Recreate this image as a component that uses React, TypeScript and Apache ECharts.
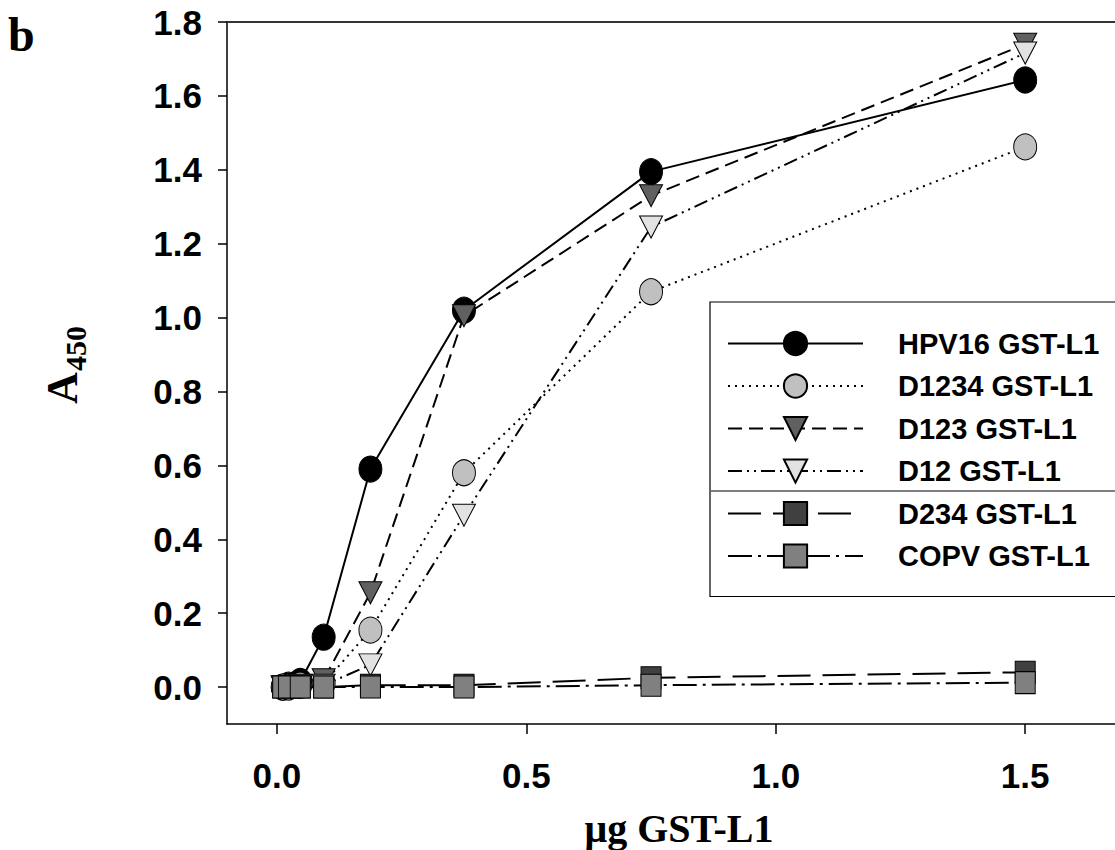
import React, { useEffect, useRef } from "react";
import * as echarts from "echarts";

const doses = [0.01171875, 0.0234375, 0.046875, 0.09375, 0.1875, 0.375, 0.75, 1.5];
const hpv16 = [0.0, 0.005, 0.015, 0.135, 0.59, 1.02, 1.395, 1.643];
const d1234 = [0.0, 0.0, 0.005, 0.01, 0.154, 0.58, 1.07, 1.462];
const d123 = [0.0, 0.0, 0.005, 0.02, 0.255, 1.005, 1.33, 1.74];
const d12 = [0.0, 0.0, 0.0, 0.005, 0.06, 0.465, 1.245, 1.716];
const d234 = [0.0, 0.0, 0.0, 0.0, 0.005, 0.005, 0.025, 0.04];
const copv = [0.0, 0.0, 0.0, 0.0, 0.0, 0.0, 0.005, 0.012];

const seriesNames = [
  "HPV16 GST-L1",
  "D1234 GST-L1",
  "D123 GST-L1",
  "D12 GST-L1",
  "D234 GST-L1",
  "COPV GST-L1",
];
const xTicks = [0, 0.5, 1.0, 1.5];
const yTicks = [0, 0.2, 0.4, 0.6, 0.8, 1.0, 1.2, 1.4, 1.6, 1.8];

const SANS = "'Liberation Sans', Arial, Helvetica, sans-serif";
const SERIF = "'Liberation Serif', 'Times New Roman', Times, serif";

function pairs(ys: number[]) {
  return doses.map((d, i) => [d, ys[i]]);
}

export default function App() {
  const ref = useRef<HTMLDivElement>(null);
  useEffect(() => {
    document.body.style.margin = "0";
    document.body.style.overflow = "hidden";
    const chart = echarts.init(ref.current!, null, { renderer: "svg" });
    const mk = (
      name: string,
      ys: number[],
      symbol: string,
      size: number[],
      rotate: number,
      fill: string,
      dash: number[] | "solid"
    ) => ({
      name,
      type: "line",
      data: pairs(ys),
      symbol,
      symbolSize: size,
      symbolRotate: rotate,
      showSymbol: true,
      itemStyle: { color: fill, borderColor: "#000", borderWidth: 1 },
      lineStyle: { color: "#000", width: 2, type: dash },
      emphasis: { disabled: true },
    });
    chart.setOption({
      animation: false,
      grid: { left: 227, top: 22, right: 0, bottom: 126, containLabel: false, outerBoundsMode: "none" },
      xAxis: [
        {
          type: "value",
          min: -0.1,
          max: 1.68,
          position: "bottom",
          axisLine: { show: true, onZero: false, lineStyle: { color: "#000", width: 1.5 } },
          axisTick: { show: true, length: 10, lineStyle: { color: "#000", width: 1.5 }, customValues: xTicks },
          axisLabel: {
            customValues: xTicks,
            formatter: (v: number) => v.toFixed(1),
            fontFamily: SANS,
            fontWeight: "bold",
            fontSize: 35,
            color: "#000",
            margin: 34,
          },
          splitLine: { show: false },
          name: "\u03bcg GST-L1",
          nameLocation: "middle",
          nameGap: 84,
          nameTextStyle: {
            fontFamily: SERIF,
            fontWeight: "bold",
            fontSize: 40,
            color: "#000",
            padding: [0, 0, 0, 16],
          },
        },
        {
          type: "value",
          min: -0.1,
          max: 1.68,
          position: "top",
          axisLine: { show: true, onZero: false, lineStyle: { color: "#333", width: 2 } },
          axisTick: { show: false },
          axisLabel: { show: false },
          splitLine: { show: false },
        },
      ],
      yAxis: {
        type: "value",
        min: -0.1,
        max: 1.8,
        axisLine: { show: true, onZero: false, lineStyle: { color: "#000", width: 1.5 } },
        axisTick: { show: true, length: 9, lineStyle: { color: "#000", width: 1.5 }, customValues: yTicks },
        axisLabel: {
          customValues: yTicks,
          formatter: (v: number) => v.toFixed(1),
          fontFamily: SANS,
          fontWeight: "bold",
          fontSize: 35,
          color: "#000",
          margin: 25,
        },
        splitLine: { show: false },
      },
      legend: {
        orient: "vertical",
        left: 710,
        top: 302,
        padding: [27, 40, 26, 17],
        itemWidth: 135,
        itemHeight: 29,
        itemGap: 13.5,
        borderColor: "#000",
        borderWidth: 1.2,
        backgroundColor: "#fff",
        data: seriesNames,
        textStyle: {
          fontFamily: SANS,
          fontWeight: "bold",
          fontSize: 29,
          color: "#000",
          lineHeight: 29,
          padding: [0, 0, 0, 30],
        },
        selectedMode: false,
      },
      graphic: [
        {
          type: "text",
          left: 8,
          top: 10,
          style: { text: "b", fontFamily: SERIF, fontWeight: "bold", fontSize: 48, fill: "#000" },
        },
        {
          type: "group",
          x: 90,
          y: 404,
          rotation: Math.PI / 2,
          children: [
            {
              type: "text",
              x: 0,
              y: -6,
              style: {
                text: "A",
                fontFamily: SERIF,
                fontWeight: "bold",
                fontSize: 44,
                fill: "#000",
                verticalAlign: "bottom",
                align: "left",
              },
            },
            {
              type: "text",
              x: 33,
              y: 0,
              style: {
                text: "450",
                fontFamily: SERIF,
                fontWeight: "bold",
                fontSize: 30,
                fill: "#000",
                verticalAlign: "bottom",
                align: "left",
              },
            },
          ],
        },
        {
          type: "line",
          shape: { x1: 711, y1: 491, x2: 1115, y2: 491 },
          style: { stroke: "#000", lineWidth: 1.2 },
          z: 100,
        },
      ],
      series: [
        mk(seriesNames[0], hpv16, "circle", [23, 26], 0, "#000000", "solid"),
        mk(seriesNames[1], d1234, "circle", [23, 26], 0, "#c0c0c0", [2, 5]),
        mk(seriesNames[2], d123, "triangle", [23, 22], 180, "#606060", [14, 7]),
        mk(seriesNames[3], d12, "triangle", [23, 22], 180, "#e2e2e2", [14, 5, 2, 5, 2, 5]),
        mk(seriesNames[4], d234, "rect", [20, 22], 0, "#404040", [33, 12]),
        mk(seriesNames[5], copv, "rect", [20, 22], 0, "#808080", [24, 6, 3, 6]),
      ],
    });
    return () => chart.dispose();
  }, []);
  return <div ref={ref} style={{ width: 1115, height: 850 }} />;
}
